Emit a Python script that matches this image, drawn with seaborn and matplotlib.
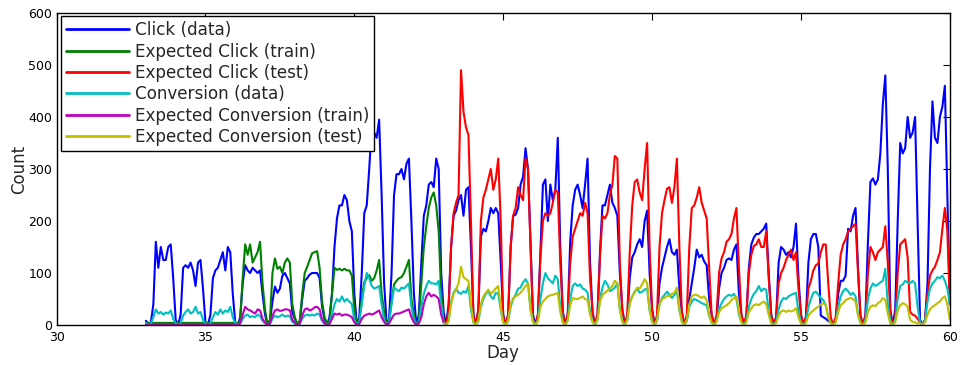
import numpy as np
import pandas as pd
import matplotlib
matplotlib.use("Agg")
import matplotlib.pyplot as plt
import seaborn as sns

# ---------------- data (12 samples per day, every 2 hours) ----------------
first_day = 33
click_data_days = [
    [8, 3, 5, 40, 160, 110, 150, 125, 125, 150, 155, 90],      # 33
    [10, 0, 20, 110, 115, 110, 120, 105, 75, 120, 125, 70],     # 34
    [5, 0, 20, 90, 105, 110, 125, 140, 105, 150, 140, 60],      # 35
    [5, 0, 15, 80, 115, 105, 100, 110, 105, 100, 105, 60],      # 36
    [20, 0, 8, 45, 74, 62, 70, 95, 100, 90, 80, 25],            # 37
    [12, 0, 6, 50, 85, 90, 97, 100, 100, 100, 90, 35],          # 38
    [10, 0, 15, 60, 150, 205, 230, 230, 250, 240, 200, 180],    # 39
    [60, 0, 15, 100, 215, 230, 300, 380, 370, 360, 395, 250],   # 40
    [80, 5, 10, 100, 250, 290, 290, 300, 280, 310, 320, 200],   # 41
    [60, 0, 20, 120, 210, 230, 270, 275, 265, 320, 300, 100],   # 42
    [25, 0, 40, 150, 210, 220, 240, 250, 210, 260, 265, 150],   # 43
    [20, 0, 30, 170, 185, 180, 200, 225, 215, 225, 215, 120],   # 44
    [20, 0, 20, 150, 210, 212, 225, 270, 285, 340, 300, 160],   # 45
    [20, 0, 20, 140, 270, 280, 200, 270, 240, 260, 360, 150],   # 46
    [25, 0, 20, 160, 230, 260, 270, 250, 225, 270, 320, 120],   # 47
    [25, 0, 20, 140, 230, 230, 250, 270, 235, 225, 210, 100],   # 48
    [30, 0, 15, 90, 130, 140, 155, 165, 150, 200, 220, 100],    # 49
    [30, 0, 10, 80, 110, 130, 150, 165, 140, 135, 145, 70],     # 50
    [25, 0, 10, 50, 80, 110, 145, 130, 135, 122, 115, 50],      # 51
    [20, 0, 10, 70, 100, 110, 125, 128, 125, 145, 155, 60],     # 52
    [20, 0, 15, 110, 155, 168, 175, 175, 180, 185, 195, 100],   # 53
    [20, 0, 15, 120, 150, 145, 135, 140, 130, 150, 195, 90],    # 54
    [20, 0, 15, 120, 165, 175, 175, 150, 18, 15, 12, 8],        # 55
    [5, 0, 10, 60, 85, 85, 95, 185, 180, 210, 225, 110],        # 56
    [10, 0, 20, 160, 275, 282, 270, 280, 330, 425, 480, 300],   # 57
    [30, 0, 30, 200, 350, 330, 340, 400, 360, 370, 400, 200],   # 58
    [10, 0, 10, 80, 300, 430, 360, 350, 400, 420, 460, 250],    # 59
]
click_data_end = 40

click_train_days = [
    [4] * 12, [4] * 12, [4] * 12,                                # 33-35
    [4, 2, 10, 90, 155, 135, 155, 120, 130, 140, 160, 80],      # 36
    [30, 2, 10, 100, 128, 108, 112, 100, 120, 128, 120, 40],    # 37
    [15, 2, 8, 60, 100, 112, 125, 138, 140, 142, 110, 45],      # 38
    [15, 2, 8, 60, 110, 106, 108, 105, 108, 105, 105, 95],      # 39
    [30, 0, 8, 50, 82, 90, 96, 85, 90, 105, 125, 60],           # 40
    [25, 2, 6, 45, 78, 85, 90, 92, 100, 112, 125, 50],          # 41
    [20, 0, 10, 80, 150, 190, 225, 245, 255, 230, 180, 60],     # 42
]
click_train_end = 10

click_test_days = [
    [10, 0, 30, 150, 215, 235, 250, 490, 410, 380, 365, 200],   # 43
    [15, 0, 30, 200, 245, 260, 280, 300, 260, 280, 320, 200],   # 44
    [15, 0, 20, 150, 210, 225, 265, 250, 240, 320, 300, 150],   # 45
    [10, 0, 20, 130, 200, 215, 210, 215, 235, 260, 255, 120],   # 46
    [25, 0, 20, 120, 170, 185, 200, 215, 210, 235, 215, 90],    # 47
    [25, 0, 20, 130, 210, 205, 215, 250, 270, 325, 320, 120],   # 48
    [30, 0, 20, 140, 230, 275, 280, 255, 240, 300, 350, 150],   # 49
    [30, 0, 20, 150, 215, 240, 262, 265, 235, 265, 320, 150],   # 50
    [25, 0, 20, 150, 225, 230, 245, 265, 235, 220, 205, 110],   # 51
    [20, 0, 20, 100, 128, 140, 160, 165, 175, 205, 225, 110],   # 52
    [20, 0, 20, 100, 135, 152, 155, 165, 150, 150, 180, 90],    # 53
    [20, 0, 15, 80, 100, 110, 125, 135, 145, 125, 140, 70],     # 54
    [20, 0, 15, 70, 85, 105, 115, 118, 140, 155, 155, 80],      # 55
    [15, 0, 15, 80, 135, 155, 165, 180, 185, 190, 195, 100],    # 56
    [20, 0, 15, 100, 150, 140, 125, 140, 145, 150, 190, 120],   # 57
    [25, 0, 15, 100, 155, 160, 165, 130, 25, 20, 18, 12],       # 58
    [5, 0, 10, 60, 95, 105, 112, 125, 140, 185, 225, 180],      # 59
]
click_test_end = 40

conv_data_days = [
    [4, 1, 2, 15, 30, 22, 25, 20, 24, 22, 28, 12],              # 33
    [3, 0, 3, 18, 25, 30, 22, 25, 35, 22, 25, 10],              # 34
    [3, 0, 3, 15, 25, 20, 30, 22, 28, 25, 35, 15],              # 35
    [3, 0, 3, 12, 18, 20, 15, 17, 15, 20, 17, 8],               # 36
    [3, 0, 2, 12, 18, 15, 17, 20, 16, 18, 17, 6],               # 37
    [3, 0, 2, 12, 18, 20, 18, 20, 18, 22, 20, 8],               # 38
    [3, 0, 3, 20, 40, 50, 45, 55, 45, 50, 45, 40],              # 39
    [10, 0, 5, 40, 75, 100, 90, 75, 70, 72, 75, 40],            # 40
    [10, 0, 5, 40, 72, 68, 65, 72, 70, 75, 80, 35],             # 41
    [10, 0, 5, 35, 60, 75, 85, 80, 80, 78, 85, 40],             # 42
    [5, 0, 8, 45, 62, 70, 62, 60, 65, 62, 75, 30],              # 43
    [5, 0, 8, 35, 50, 60, 65, 55, 50, 62, 60, 30],              # 44
    [5, 0, 8, 35, 50, 58, 70, 72, 82, 88, 80, 30],              # 45
    [8, 0, 10, 50, 80, 100, 90, 85, 80, 95, 88, 35],            # 46
    [5, 0, 10, 50, 75, 80, 75, 78, 70, 68, 62, 25],             # 47
    [8, 0, 10, 50, 72, 85, 78, 65, 68, 72, 80, 30],             # 48
    [8, 0, 10, 45, 55, 64, 70, 62, 64, 68, 70, 28],             # 49
    [8, 0, 10, 40, 52, 58, 64, 58, 52, 58, 65, 28],             # 50
    [8, 0, 8, 35, 45, 50, 48, 45, 42, 40, 38, 18],              # 51
    [5, 0, 8, 30, 42, 50, 55, 58, 56, 60, 50, 20],              # 52
    [5, 0, 8, 35, 50, 60, 65, 75, 65, 70, 68, 25],              # 53
    [5, 0, 6, 30, 45, 52, 50, 55, 58, 60, 62, 25],              # 54
    [5, 0, 6, 35, 50, 62, 64, 58, 52, 48, 38, 15],              # 55
    [5, 0, 6, 35, 55, 65, 70, 65, 58, 62, 55, 20],              # 56
    [5, 0, 10, 50, 70, 80, 75, 78, 82, 85, 108, 40],            # 57
    [8, 0, 10, 50, 75, 78, 85, 82, 80, 85, 80, 35],             # 58
    [5, 0, 8, 45, 70, 80, 85, 92, 90, 95, 85, 70],              # 59
]
conv_data_end = 40

conv_train_days = [
    [0.5] * 12, [0.5] * 12, [0.5] * 12,                          # 33-35
    [0.5, 0, 3, 20, 35, 30, 28, 25, 22, 30, 28, 12],            # 36
    [5, 0, 3, 18, 28, 30, 27, 28, 30, 30, 28, 10],              # 37
    [4, 0, 3, 18, 30, 32, 28, 30, 34, 35, 30, 10],              # 38
    [3, 0, 2, 12, 22, 20, 22, 18, 20, 20, 18, 15],              # 39
    [5, 0, 2, 12, 18, 20, 22, 20, 22, 25, 28, 15],              # 40
    [6, 0, 3, 12, 20, 22, 22, 24, 26, 28, 30, 15],              # 41
    [5, 0, 3, 15, 40, 55, 62, 55, 58, 55, 50, 20],              # 42
]
conv_train_end = 5

conv_test_days = [
    [3, 0, 8, 40, 60, 68, 80, 112, 92, 88, 85, 40],             # 43
    [5, 0, 10, 40, 55, 62, 68, 60, 65, 70, 75, 35],             # 44
    [5, 0, 10, 40, 52, 55, 58, 62, 68, 75, 80, 30],             # 45
    [5, 0, 8, 35, 45, 50, 55, 57, 58, 60, 62, 25],              # 46
    [5, 0, 8, 38, 52, 50, 50, 52, 55, 50, 48, 20],              # 47
    [5, 0, 10, 45, 58, 62, 66, 70, 75, 85, 80, 30],             # 48
    [5, 0, 10, 40, 55, 62, 72, 70, 78, 88, 80, 30],             # 49
    [5, 0, 10, 40, 50, 52, 56, 55, 60, 62, 72, 30],             # 50
    [5, 0, 10, 40, 55, 58, 58, 55, 52, 55, 48, 20],             # 51
    [5, 0, 6, 25, 32, 35, 38, 42, 48, 52, 55, 25],              # 52
    [5, 0, 5, 25, 32, 38, 40, 38, 42, 45, 40, 20],              # 53
    [3, 0, 4, 18, 26, 28, 25, 28, 26, 28, 32, 15],              # 54
    [3, 0, 4, 18, 24, 28, 32, 35, 40, 42, 38, 15],              # 55
    [3, 0, 5, 25, 38, 42, 48, 50, 52, 50, 45, 20],              # 56
    [3, 0, 5, 25, 35, 38, 36, 42, 45, 52, 48, 22],              # 57
    [3, 0, 5, 28, 38, 42, 40, 35, 10, 6, 5, 3],                 # 58
    [3, 0, 5, 20, 30, 35, 38, 42, 45, 52, 55, 40],              # 59
]
conv_test_end = 10

labels = ["Click (data)", "Expected Click (train)", "Expected Click (test)",
          "Conversion (data)", "Expected Conversion (train)",
          "Expected Conversion (test)"]
colors = ["#0000ff", "#008000", "#ff0000", "#00bfbf", "#bf00bf", "#bfbf00"]
x_ticks = [30, 35, 40, 45, 50, 55, 60]
y_ticks = [0, 100, 200, 300, 400, 500, 600]
samples_per_day = 12


def build(days, end, start_day):
    vals = np.concatenate([np.asarray(d, float) for d in days] + [[end]])
    t = start_day + np.arange(len(vals)) / samples_per_day
    return pd.DataFrame({"Day": t, "Count": vals})


series = [
    build(click_data_days, click_data_end, first_day),
    build(click_train_days, click_train_end, first_day),
    build(click_test_days, click_test_end, first_day + len(click_train_days)),
    build(conv_data_days, conv_data_end, first_day),
    build(conv_train_days, conv_train_end, first_day),
    build(conv_test_days, conv_test_end, first_day + len(conv_train_days)),
]

# ---------------- plot ----------------
sns.set_theme(style="white")
plt.rcParams["font.family"] = ["DejaVu Sans"]

fig = plt.figure(figsize=(9.64, 3.65), dpi=100)
ax = fig.add_axes([0.0587, 0.1096, 0.9266, 0.8548])

for df, lab, col in zip(series, labels, colors):
    sns.lineplot(data=df, x="Day", y="Count", color=col, linewidth=1.5,
                 label=lab, estimator=None, sort=False, ax=ax)

ax.set_xlim(30, 60)
ax.set_ylim(0, 600)
ax.set_xticks(x_ticks)
ax.set_yticks(y_ticks)
ax.tick_params(direction="in", top=True, right=True, length=5, width=0.8,
               labelsize=9, colors="black")
ax.tick_params(axis="x", pad=4)
ax.tick_params(axis="y", pad=3)
for s in ax.spines.values():
    s.set_color("black")
    s.set_linewidth(1.0)
ax.set_xlabel("Day", fontsize=12, labelpad=0)
ax.set_ylabel("Count", fontsize=12, labelpad=0)

leg = ax.legend(loc="upper left", bbox_to_anchor=(0.005, 0.99), borderaxespad=0,
                frameon=True, fancybox=False, framealpha=1, edgecolor="black",
                fontsize=12.1, handlelength=3.75, handletextpad=0.35,
                labelspacing=0.2, borderpad=0.3)
leg.get_frame().set_linewidth(1.0)
for ln in leg.get_lines():
    ln.set_linewidth(2.0)

fig.savefig("out.png", dpi=100)
